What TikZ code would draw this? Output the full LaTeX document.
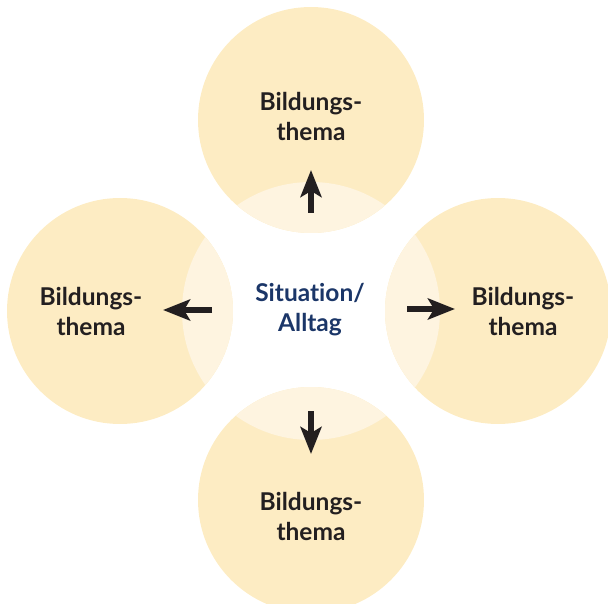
\documentclass[tikz,border=0pt]{standalone}
\usepackage{fontspec}
\setmainfont{Lato}[UprightFont=* Bold, Ligatures=NoCommon]
\usetikzlibrary{arrows.meta}
\definecolor{sun}{HTML}{FDECC3}
\definecolor{sunlight}{HTML}{FEF4E0}
\definecolor{ink}{HTML}{231F20}
\definecolor{navy}{HTML}{1B3668}
\tikzset{
  theme/.style={fill=sun},
  overlap/.style={fill=sunlight},
  label/.style={text=ink, align=center, inner sep=0pt,
    font=\fontsize{24.5}{30}\selectfont},
  centrelabel/.style={label, text=navy},
  flow/.style={draw=ink, line width=6pt,
    -{Stealth[length=27pt, width=21pt, inset=6pt]}},
}
\begin{document}
\begin{tikzpicture}[x=1pt,y=-1pt]
\useasboundingbox (0,0) rectangle (608,604);
\clip (0,0) rectangle (608,604);
% centre and the four theme circles
\coordinate (c) at (311,311);
\coordinate (ct) at (311,120);
\coordinate (cl) at (120,311);
\coordinate (cr) at (498,311);
\coordinate (cb) at (311,500);
\foreach \p in {ct,cl,cr,cb}
  \fill[theme] (\p) circle[radius=113pt];
% paler lens where each circle meets the central area
\begin{scope}
  \clip (c) circle[radius=129pt];
  \foreach \p in {ct,cl,cr,cb}
    \fill[overlap] (\p) circle[radius=113pt];
\end{scope}
% labels
\node[centrelabel] (sit) at (310,310) {Situation/\\Alltag};
\node[label] (top) at (311,116) {Bildungs-\\thema};
\node[label] (left) at (91,311) {Bildungs-\\thema};
\node[label] (right) at (523,311) {Bildungs-\\thema};
\node[label] (bottom) at (311,516) {Bildungs-\\thema};
% arrows from the centre outwards
\coordinate (at1) at (311,213); \coordinate (at2) at (311,170);
\coordinate (al1) at (212,310); \coordinate (al2) at (163,310);
\coordinate (ar1) at (407,309); \coordinate (ar2) at (455,309);
\coordinate (ab1) at (311,411); \coordinate (ab2) at (311,454);
\draw[flow] (at1) -- (at2);
\draw[flow] (al1) -- (al2);
\draw[flow] (ar1) -- (ar2);
\draw[flow] (ab1) -- (ab2);
\end{tikzpicture}
\end{document}
